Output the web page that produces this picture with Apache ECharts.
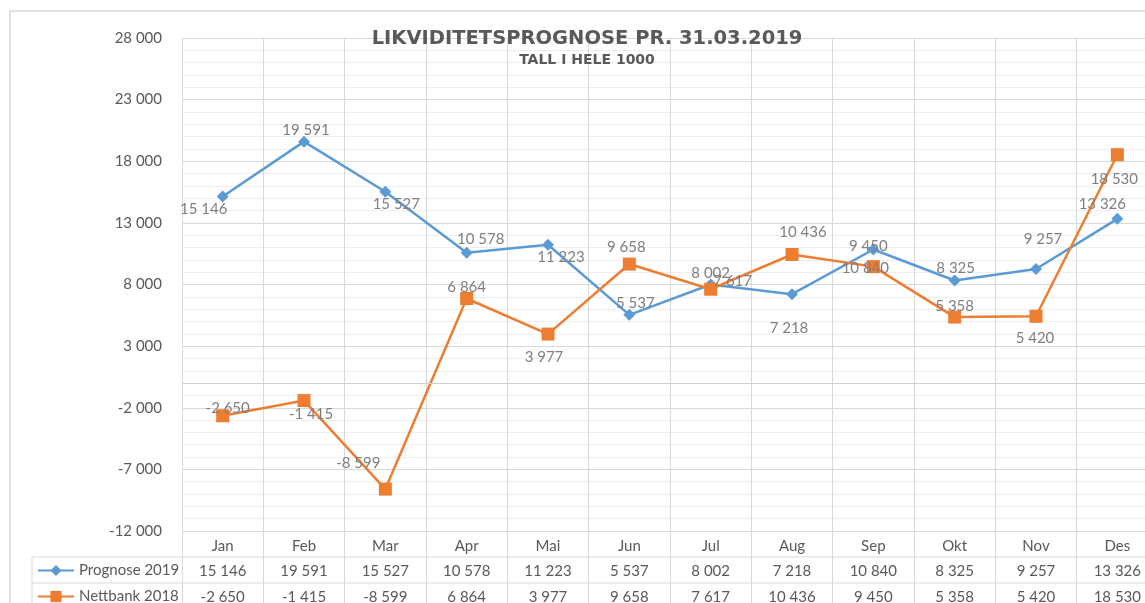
<!DOCTYPE html>
<html>
<head>
<meta charset="utf-8">
<script src="https://cdn.jsdelivr.net/npm/echarts@6/dist/echarts.min.js"></script>
<style>
  html, body { margin: 0; padding: 0; background: #fff; }
  #chart { width: 1145px; height: 603px; }
</style>
</head>
<body>
<div id="chart"></div>
<script>
// data
var months = ['Jan', 'Feb', 'Mar', 'Apr', 'Mai', 'Jun', 'Jul', 'Aug', 'Sep', 'Okt', 'Nov', 'Des'];
var prognose2019 = [15146, 19591, 15527, 10578, 11223, 5537, 8002, 7218, 10840, 8325, 9257, 13326];
var nettbank2018 = [-2650, -1415, -8599, 6864, 3977, 9658, 7617, 10436, 9450, 5358, 5420, 18530];
var yMin = -12000, yMax = 28000, yStep = 5000;

// where each data label sits relative to its point (px)
var prognoseLabelOffsets = [[-19, 13], [2, -11], [11, 12], [14, -14], [13, 12], [6, -12],
                            [0, -11], [-3, 34], [-8, 19], [1, -12], [7, -30], [-15, -15]];
var nettbankLabelOffsets = [[5, -8], [7, 14], [-27, -26], [0, -11], [-4, 23], [-3, -17],
                            [22, -8], [11, -22], [-5, -20], [0, -11], [-1, 22], [-3, 24]];

var BLUE = '#5B9BD5', ORANGE = '#ED7D31', TEXT = '#595959', GRID = '#d9d9d9';
var FONT = 'Lato';

function fmt(v) {
    var s = Math.abs(v).toString().replace(/\B(?=(\d{3})+(?!\d))/g, ' ');
    return (v < 0 ? '-' : '') + s;
}

function withLabels(values, offsets) {
    return values.map(function (v, i) {
        return { value: v, label: { offset: offsets[i] } };
    });
}

var chart = echarts.init(document.getElementById('chart'));

var tableAxis = function (values, offset) {
    return {
        type: 'category',
        data: values.map(fmt),
        position: 'bottom',
        offset: offset,
        boundaryGap: true,
        axisLine: { show: false },
        axisTick: { show: false },
        splitLine: { show: false },
        axisLabel: { interval: 0, margin: 7, color: TEXT, fontSize: 15, fontFamily: FONT }
    };
};

var legendRow = function (name, top) {
    return {
        data: [name],
        left: 37,
        top: top,
        padding: 0,
        itemWidth: 36,
        itemHeight: 14,
        textStyle: { color: TEXT, fontSize: 15, fontFamily: FONT }
    };
};

var option = {
    animation: false,
    backgroundColor: '#fff',
    grid: { left: 182, top: 38, width: 976, height: 493, outerBoundsMode: 'none' },
    legend: [legendRow('Prognose 2019', 563), legendRow('Nettbank 2018', 589)],
    xAxis: [
        {
            type: 'category',
            data: months,
            boundaryGap: true,
            axisLine: { show: false, onZero: false },
            axisTick: { show: true, length: 72, lineStyle: { color: GRID } },
            splitLine: { show: true, lineStyle: { color: GRID } },
            axisLabel: { interval: 0, margin: 8, color: TEXT, fontSize: 15, fontFamily: FONT }
        },
        tableAxis(prognose2019, 26),
        tableAxis(nettbank2018, 52)
    ],
    yAxis: {
        type: 'value',
        min: yMin,
        max: yMax,
        interval: yStep,
        axisLine: { show: false },
        axisTick: { show: false },
        splitLine: { lineStyle: { color: GRID } },
        minorTick: { show: false, splitNumber: 5 },
        minorSplitLine: { show: true, lineStyle: { color: '#eeeeee' } },
        axisLabel: { margin: 20, color: TEXT, fontSize: 15, fontFamily: FONT, formatter: fmt }
    },
    series: [
        {
            name: 'Prognose 2019',
            type: 'line',
            data: withLabels(prognose2019, prognoseLabelOffsets),
            symbol: 'diamond',
            symbolSize: 12,
            lineStyle: { color: BLUE, width: 2.5 },
            itemStyle: { color: BLUE },
            label: {
                show: true, position: 'inside', color: '#7f7f7f', fontSize: 15, fontFamily: FONT,
                formatter: function (p) { return fmt(p.value); }
            },
            markLine: {
                silent: true,
                symbol: 'none',
                label: { show: false },
                lineStyle: { color: '#cfcfcf', width: 1, type: 'solid' },
                data: [{ yAxis: 0 }]
            }
        },
        {
            name: 'Nettbank 2018',
            type: 'line',
            data: withLabels(nettbank2018, nettbankLabelOffsets),
            symbol: 'rect',
            symbolSize: 13,
            lineStyle: { color: ORANGE, width: 2.5 },
            itemStyle: { color: ORANGE },
            label: {
                show: true, position: 'inside', color: '#7f7f7f', fontSize: 15, fontFamily: FONT,
                formatter: function (p) { return fmt(p.value); }
            }
        }
    ],
    graphic: [
        { type: 'rect', shape: { x: 10, y: 11, width: 1200, height: 700 },
          style: { fill: null, stroke: GRID, lineWidth: 1.5 }, z: -1 },
        { type: 'line', shape: { x1: 32, y1: 557, x2: 1145, y2: 557 }, style: { stroke: GRID } },
        { type: 'line', shape: { x1: 32, y1: 583, x2: 1145, y2: 583 }, style: { stroke: GRID } },
        { type: 'line', shape: { x1: 32, y1: 557, x2: 32, y2: 603 }, style: { stroke: GRID } },
        { type: 'text', x: 587, y: 39, z: 10,
          style: { text: 'LIKVIDITETSPROGNOSE PR. 31.03.2019', align: 'center', verticalAlign: 'middle',
                   font: 'bold 19.5px "DejaVu Sans"', fill: TEXT } },
        { type: 'text', x: 587, y: 60, z: 10,
          style: { text: 'TALL I HELE 1000', align: 'center', verticalAlign: 'middle',
                   font: 'bold 14px "DejaVu Sans"', fill: TEXT } }
    ]
};

chart.setOption(option);
</script>
</body>
</html>
